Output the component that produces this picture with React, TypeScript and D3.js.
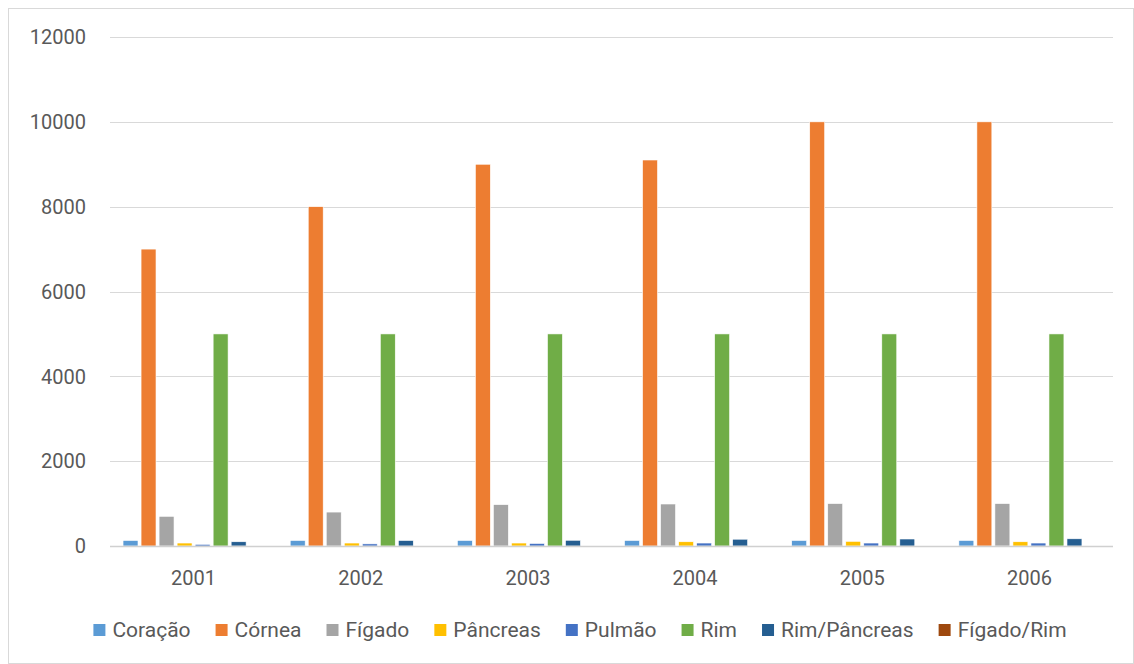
import React, { useEffect, useRef } from "react";
import * as d3 from "d3";

const years = ["2001", "2002", "2003", "2004", "2005", "2006"];
const seriesNames = ["Coração", "Córnea", "Fígado", "Pâncreas", "Pulmão", "Rim", "Rim/Pâncreas", "Fígado/Rim"];
const coracao = [130, 130, 130, 130, 130, 130];
const cornea = [7000, 8000, 9000, 9100, 10000, 10000];
const figado = [700, 800, 975, 990, 1000, 1000];
const pancreas = [70, 70, 70, 100, 110, 100];
const pulmao = [40, 50, 60, 70, 70, 70];
const rim = [5000, 5000, 5000, 5000, 5000, 5000];
const rimPancreas = [100, 130, 135, 160, 165, 170];
const figadoRim = [0, 0, 0, 0, 0, 0];
const seriesValues = [coracao, cornea, figado, pancreas, pulmao, rim, rimPancreas, figadoRim];
const colors = ["#5B9BD5", "#ED7D31", "#A5A5A5", "#FFC000", "#4472C4", "#70AD47", "#255E91", "#9E480E"];
const yTicks = [0, 2000, 4000, 6000, 8000, 10000, 12000];

const W = 1134;
const H = 664;
const FONT = "Roboto, 'Noto Sans', sans-serif";
const TEXT = "#595959";

export default function App() {
  const ref = useRef<SVGSVGElement | null>(null);

  useEffect(() => {
    const svg = d3.select(ref.current);
    svg.selectAll("*").remove();

    svg.append("rect").attr("x", 0).attr("y", 0).attr("width", W).attr("height", H).attr("fill", "#fff");
    svg.append("rect")
      .attr("x", 8.5).attr("y", 8.5).attr("width", W - 9).attr("height", H - 9)
      .attr("fill", "none").attr("stroke", "#d9d9d9").attr("stroke-width", 1);

    const left = 110, right = 1113, top = 37, bottom = 546;
    const y = d3.scaleLinear().domain([0, 12000]).range([bottom, top]);
    const x0 = d3.scaleBand<string>().domain(years).range([left, right]).padding(0);
    const bw = x0.bandwidth();
    const gap = bw * 0.078;
    const x1 = d3.scaleBand<string>().domain(seriesNames).range([gap, bw - gap]).paddingInner(0.17).paddingOuter(0);

    svg.append("g").selectAll("line").data(yTicks.filter((t) => t !== 0)).join("line")
      .attr("x1", left).attr("x2", right)
      .attr("y1", (d) => Math.round(y(d)) + 0.5).attr("y2", (d) => Math.round(y(d)) + 0.5)
      .attr("stroke", "#d9d9d9").attr("stroke-width", 1);

    svg.append("g").selectAll("text").data(yTicks).join("text")
      .attr("x", 86).attr("y", (d) => y(d)).attr("dy", "0.36em")
      .attr("text-anchor", "end").attr("font-family", FONT).attr("font-size", 20).attr("fill", TEXT)
      .text((d) => String(d));

    const g = svg.append("g");
    seriesNames.forEach((name, si) => {
      g.append("g").selectAll("rect").data(seriesValues[si]).join("rect")
        .attr("x", (_d, i) => (x0(years[i]) as number) + (x1(name) as number))
        .attr("width", x1.bandwidth())
        .attr("y", (d) => y(d))
        .attr("height", (d) => bottom - y(d))
        .attr("fill", colors[si])
        .attr("stroke", "#ffffff").attr("stroke-width", 0.6);
    });

    svg.append("line")
      .attr("x1", left).attr("x2", right).attr("y1", bottom + 0.5).attr("y2", bottom + 0.5)
      .attr("stroke", "#d0d0d0").attr("stroke-width", 1.5);

    svg.append("g").selectAll("text").data(years).join("text")
      .attr("x", (d) => (x0(d) as number) + bw / 2).attr("y", 585)
      .attr("text-anchor", "middle").attr("font-family", FONT).attr("font-size", 20).attr("fill", TEXT)
      .text((d) => d);

    const lg = svg.append("g");
    let cx = 0;
    const sq = 12, sqGap = 7, itemGap = 25;
    seriesNames.forEach((name, i) => {
      const item = lg.append("g").attr("transform", `translate(${cx},0)`);
      item.append("rect").attr("x", 0).attr("y", -13).attr("width", sq).attr("height", sq).attr("fill", colors[i]);
      const t = item.append("text").attr("x", sq + sqGap).attr("y", 0)
        .attr("font-family", FONT).attr("font-size", 21).attr("fill", TEXT).text(name);
      const tw = (t.node() as SVGTextElement).getComputedTextLength();
      cx += sq + sqGap + tw + itemGap;
    });
    const totalW = cx - itemGap;
    const cxCenter = (91 + 1069) / 2;
    lg.attr("transform", `translate(${cxCenter - totalW / 2},637)`);
  }, []);

  return (
    <svg ref={ref} width={W} height={H} style={{ position: "absolute", left: 0, top: 0, display: "block" }} />
  );
}
